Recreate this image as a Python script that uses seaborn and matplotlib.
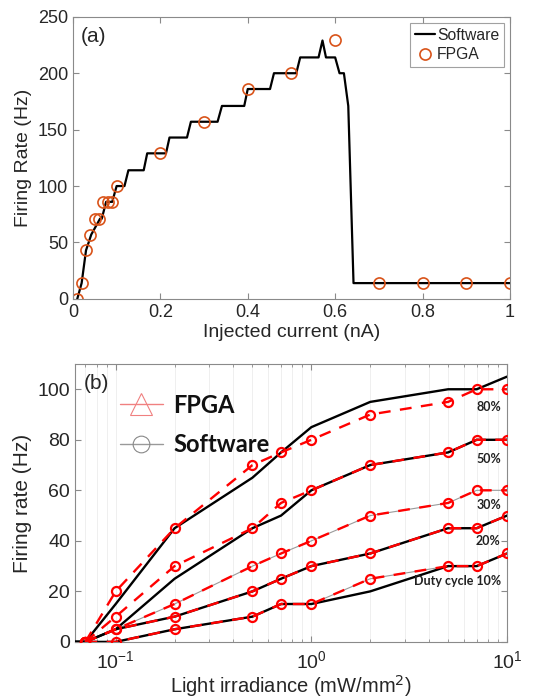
import numpy as np
import pandas as pd
import seaborn as sns
import matplotlib.pyplot as plt
from matplotlib.lines import Line2D

# ---- panel (a): firing rate vs injected current ----
sw_current = [0.01, 0.02, 0.03, 0.042, 0.062, 0.066, 0.076, 0.09, 0.1, 0.118, 0.127, 0.162,
              0.17, 0.213, 0.221, 0.261, 0.27, 0.331, 0.341, 0.392, 0.4, 0.451, 0.46, 0.511,
              0.52, 0.562, 0.571, 0.579, 0.6, 0.61, 0.62, 0.63, 0.642, 1.0]
sw_rate = [0, 14, 43, 57, 71, 71, 86, 86, 100, 100, 114, 114,
           129, 129, 143, 143, 157, 157, 171, 171, 186, 186, 200, 200,
           214, 214, 229, 214, 214, 200, 200, 171, 14, 14]

fpga_current = [0.01, 0.02, 0.03, 0.04, 0.05, 0.06, 0.07, 0.08, 0.09, 0.1,
                0.2, 0.3, 0.4, 0.5, 0.6, 0.7, 0.8, 0.9, 1.0]
fpga_rate = [0, 14, 43, 57, 71, 71, 86, 86, 86, 100,
             129, 157, 186, 200, 229, 14, 14, 14, 14]

# ---- panel (b): firing rate vs light irradiance ----
irr = [0.05, 0.07, 0.1, 0.2, 0.5, 0.7, 1, 2, 5, 7, 10]
duty = ["80%", "50%", "30%", "20%", "10%"]
sw_80 = [0, 0, 15, 45, 65, 75, 85, 95, 100, 100, 105]
sw_50 = [0, 0, 5, 25, 45, 50, 60, 70, 75, 80, 80]
sw_20 = [0, 0, 5, 10, 20, 25, 30, 35, 45, 45, 50]
sw_10 = [0, 0, 0, 5, 10, 15, 15, 20, 30, 30, 35]

fpga_irr = [0.07, 0.1, 0.2, 0.5, 0.7, 1, 2, 5, 7, 10]
fpga_80 = [0, 20, 45, 70, 75, 80, 90, 95, 100, 100]
fpga_50 = [0, 10, 30, 45, 55, 60, 70, 75, 80, 80]
fpga_30 = [0, 5, 15, 30, 35, 40, 50, 55, 60, 60]
fpga_20 = [0, 5, 10, 20, 25, 30, 35, 45, 45, 50]
fpga_10 = [0, 0, 5, 10, 15, 15, 25, 30, 30, 35]

label_pos = {"80%": (9.3, 93), "50%": (9.3, 72.3), "30%": (9.3, 54),
             "20%": (9.3, 40), "10%": (9.3, 24.2)}

sns.set_style("ticks")
plt.rcParams['font.family'] = ['Liberation Sans', 'DejaVu Sans']
plt.rcParams['xtick.direction'] = 'in'
plt.rcParams['ytick.direction'] = 'in'
plt.rcParams['axes.edgecolor'] = '#8a8a8a'
plt.rcParams['xtick.color'] = '#8a8a8a'
plt.rcParams['ytick.color'] = '#8a8a8a'
plt.rcParams['xtick.labelcolor'] = '#262626'
plt.rcParams['ytick.labelcolor'] = '#262626'

fig = plt.figure(figsize=(5.44, 7.0), dpi=100)
ax1 = fig.add_axes([0.134, 0.573, 0.8035, 0.403])
ax2 = fig.add_axes([0.138, 0.083, 0.794, 0.397])

orange = '#D95319'
sns.lineplot(x=sw_current, y=sw_rate, ax=ax1, color='k', lw=1.6, sort=False,
             estimator=None, label='Software')
sns.lineplot(x=fpga_current, y=fpga_rate, ax=ax1, color=orange, ls='none', marker='o',
             markersize=8, markerfacecolor='none', markeredgecolor=orange, mew=1.2,
             sort=False, estimator=None, label='FPGA')
ax1.set_xlim(0, 1)
ax1.set_ylim(0, 250)
ax1.set_xticks([0, 0.2, 0.4, 0.6, 0.8, 1])
ax1.set_xticklabels(['0', '0.2', '0.4', '0.6', '0.8', '1'])
ax1.set_yticks([0, 50, 100, 150, 200, 250])
ax1.tick_params(labelsize=13, top=True, right=True, length=4)
ax1.set_xlabel('Injected current (nA)', fontsize=14, color='#262626', labelpad=2)
ax1.set_ylabel('Firing Rate (Hz)', fontsize=14, color='#262626', labelpad=4)
ax1.text(0.018, 0.93, '(a)', transform=ax1.transAxes, fontsize=15, va='center',
         color='#262626')
leg = ax1.legend(loc='upper right', fontsize=11.3, frameon=True, fancybox=False,
                 handlelength=1.3, handletextpad=0.1, borderpad=0.3,
                 borderaxespad=0.4, labelspacing=0.3)
leg.get_frame().set_edgecolor('#8a8a8a')
leg.get_frame().set_linewidth(0.8)
for t in leg.get_texts():
    t.set_color('#262626')

# panel (b)
ax2.set_xscale('log')
ax2.grid(True, which='both', axis='x', color='#efefef', lw=0.7)
ax2.set_axisbelow(True)

for fp in [fpga_30, fpga_10]:
    sns.lineplot(x=fpga_irr, y=fp, ax=ax2, color='#9a9a9a', lw=0.8, sort=False,
                 estimator=None, zorder=2)
for sw in [sw_80, sw_50, sw_20, sw_10]:
    sns.lineplot(x=irr, y=sw, ax=ax2, color='k', lw=1.7, sort=False,
                 estimator=None, zorder=3)
for fp in [fpga_80, fpga_50, fpga_30, fpga_20, fpga_10]:
    sns.lineplot(x=fpga_irr, y=fp, ax=ax2, color='red', lw=1.7, ls=(0, (5, 4)),
                 marker='o', markersize=6.5, markerfacecolor='none',
                 markeredgecolor='red', mew=1.6, sort=False, estimator=None, zorder=4)

for d in duty:
    x, y = label_pos[d]
    txt = 'Duty cycle ' + d if d == '10%' else d
    ax2.text(x, y, txt, ha='right', va='center', fontsize=9, fontweight='bold',
             family=['Lato', 'DejaVu Sans'], color='#222222', zorder=5)

ax2.set_xlim(0.062, 10)
ax2.set_ylim(0, 110)
ax2.set_yticks([0, 20, 40, 60, 80, 100])
ax2.tick_params(labelsize=14, top=True, right=True, length=4, which='major')
ax2.tick_params(top=True, right=True, length=2, which='minor')
ax2.tick_params(axis='x', pad=6)
ax2.set_xlabel('Light irradiance (mW/mm$^2$)', fontsize=14.5, color='#262626', labelpad=1)
ax2.set_ylabel('Firing rate (Hz)', fontsize=15, color='#262626', labelpad=4)
ax2.text(0.02, 0.93, '(b)', transform=ax2.transAxes, fontsize=15, va='center',
         color='#262626')

handles = [Line2D([], [], color='#f08080', lw=1, marker='^', markersize=16,
                  markerfacecolor='none', markeredgecolor='#f08080', mew=0.8),
           Line2D([], [], color='#999999', lw=1, marker='o', markersize=12,
                  markerfacecolor='none', markeredgecolor='#888888', mew=0.8)]
leg2 = ax2.legend(handles, ['FPGA', 'Software'], loc='upper left',
                  bbox_to_anchor=(0.055, 0.97), frameon=False, handlelength=1.8,
                  handletextpad=0.45, labelspacing=0.7,
                  prop={'family': 'Lato', 'weight': 'bold', 'size': 17})
for t in leg2.get_texts():
    t.set_color('#111111')

fig.savefig('out.png', dpi=100)
